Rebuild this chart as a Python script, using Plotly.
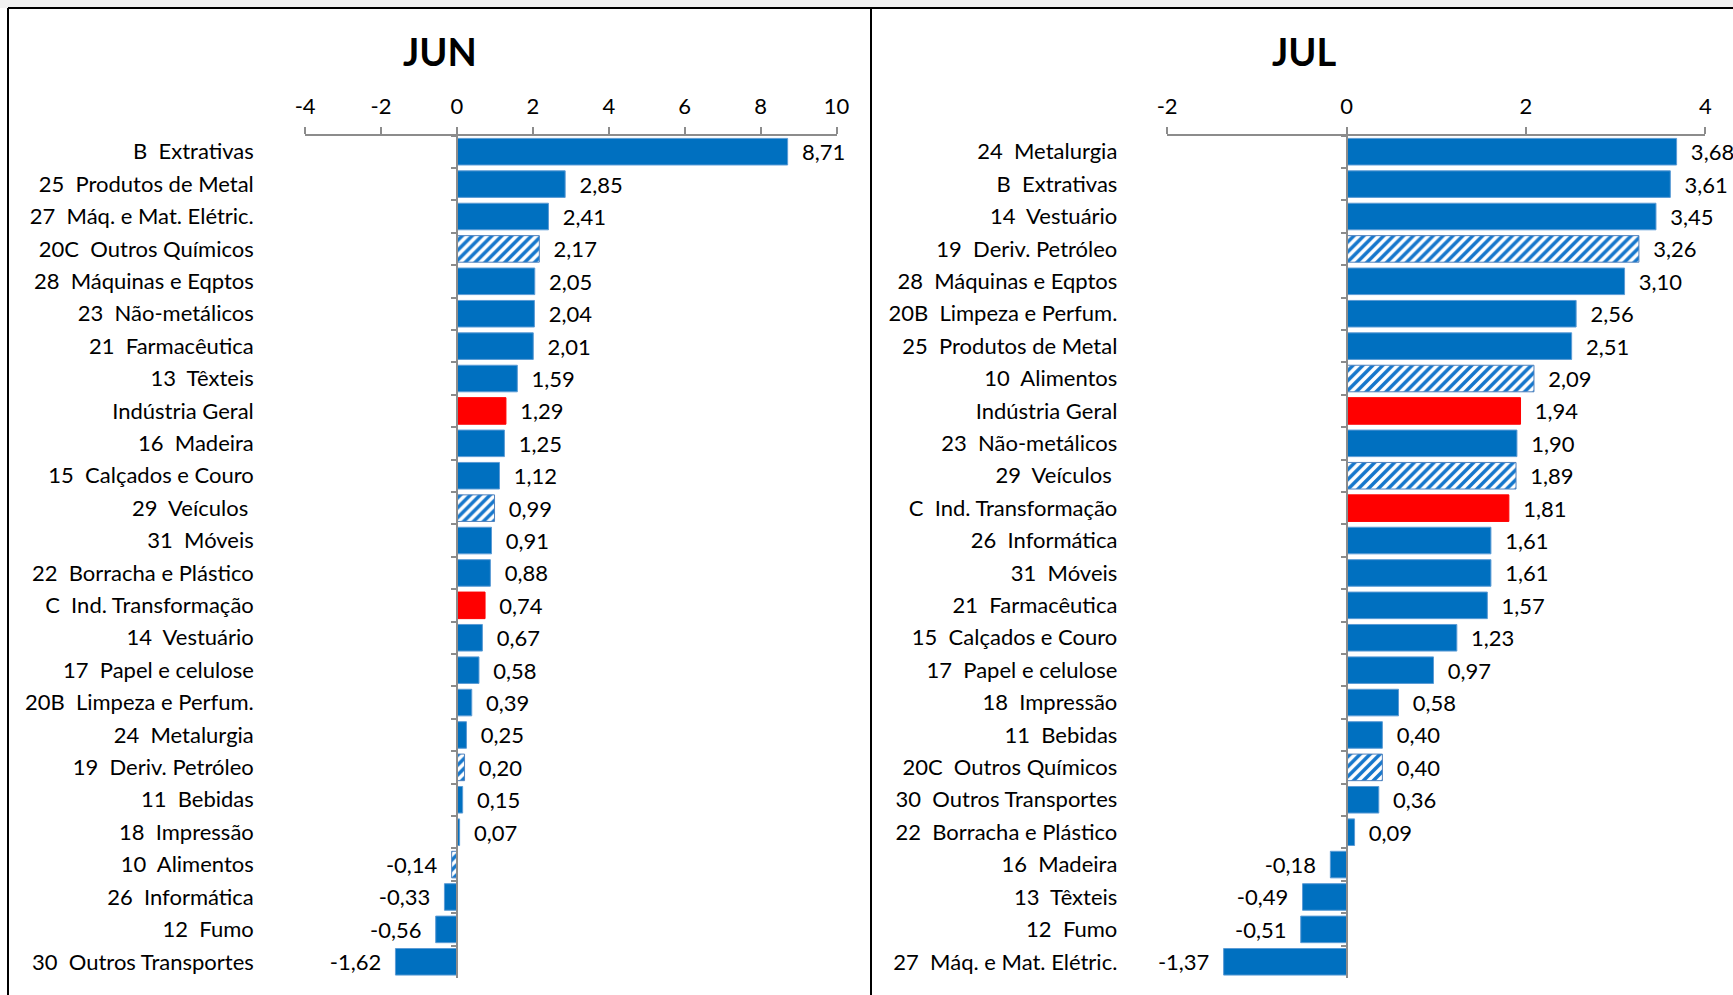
import plotly.graph_objects as go

W, H = 1733, 995
NB = "\u00a0"

jun_cats = ["B  Extrativas", "25  Produtos de Metal", "27  Máq. e Mat. Elétric.", "20C  Outros Químicos",
            "28  Máquinas e Eqptos", "23  Não-metálicos", "21  Farmacêutica", "13  Têxteis",
            "Indústria Geral", "16  Madeira", "15  Calçados e Couro", "29  Veículos ",
            "31  Móveis", "22  Borracha e Plástico", "C  Ind. Transformação", "14  Vestuário",
            "17  Papel e celulose", "20B  Limpeza e Perfum.", "24  Metalurgia", "19  Deriv. Petróleo",
            "11  Bebidas", "18  Impressão", "10  Alimentos", "26  Informática", "12  Fumo",
            "30  Outros Transportes"]
jun_vals = [8.71, 2.85, 2.41, 2.17, 2.05, 2.04, 2.01, 1.59, 1.29, 1.25, 1.12, 0.99, 0.91, 0.88,
            0.74, 0.67, 0.58, 0.39, 0.25, 0.20, 0.15, 0.07, -0.14, -0.33, -0.56, -1.62]

jul_cats = ["24  Metalurgia", "B  Extrativas", "14  Vestuário", "19  Deriv. Petróleo",
            "28  Máquinas e Eqptos", "20B  Limpeza e Perfum.", "25  Produtos de Metal", "10  Alimentos",
            "Indústria Geral", "23  Não-metálicos", "29  Veículos ", "C  Ind. Transformação",
            "26  Informática", "31  Móveis", "21  Farmacêutica", "15  Calçados e Couro",
            "17  Papel e celulose", "18  Impressão", "11  Bebidas", "20C  Outros Químicos",
            "30  Outros Transportes", "22  Borracha e Plástico", "16  Madeira", "13  Têxteis",
            "12  Fumo", "27  Máq. e Mat. Elétric."]
jul_vals = [3.68, 3.61, 3.45, 3.26, 3.10, 2.56, 2.51, 2.09, 1.94, 1.90, 1.89, 1.81, 1.61, 1.61,
            1.57, 1.23, 0.97, 0.58, 0.40, 0.40, 0.36, 0.09, -0.18, -0.49, -0.51, -1.37]

aggregates = ["Indústria Geral", "C  Ind. Transformação"]
hatched = ["20C  Outros Químicos", "29  Veículos ", "19  Deriv. Petróleo", "10  Alimentos"]

panel_titles = ["JUN", "JUL"]
jun_ticks = [-4, -2, 0, 2, 4, 6, 8, 10]
jun_ticktext = ["-4", "-2", "0", "2", "4", "6", "8", "10"]
jul_ticks = [-2, 0, 2, 4]
jul_ticktext = ["-2", "0", "2", "4"]

BLUE = "#0070C0"
HATCH = "#1577CC"
RED = "#FF0000"
EDGE = "#5B9BD5"
HEDGE = "#4F81BD"
AXC = "#8C8C8C"
FONT = "Lato"
FS = 22


def nb(s):
    return s.replace(" ", NB)


def fmt(v):
    s = f"{v:.2f}".replace(".", ",")
    return NB * 2 + s if v >= 0 else s + NB * 2


def group(cats, vals, kind):
    ys, xs = [], []
    for c, v in zip(cats, vals):
        k = "red" if c in aggregates else ("hatch" if c in hatched else "blue")
        if k == kind:
            ys.append(nb(c)); xs.append(v)
    return ys, xs


styles = {
    "blue": dict(color=BLUE, line=dict(color=EDGE, width=1)),
    "red": dict(color=RED, line=dict(color=RED, width=1)),
    "hatch": dict(color="white", line=dict(color=HEDGE, width=1),
                  pattern=dict(shape="/", fgcolor=HATCH, bgcolor="white", fgopacity=1,
                               fillmode="replace", size=7, solidity=0.5)),
}

fig = go.Figure()
for cats, vals, xa, ya in [(jun_cats, jun_vals, "x", "y"), (jul_cats, jul_vals, "x2", "y2")]:
    for kind in ["blue", "red", "hatch"]:
        ys, xs = group(cats, vals, kind)
        fig.add_trace(go.Bar(
            x=xs, y=ys, orientation="h", xaxis=xa, yaxis=ya, marker=styles[kind],
            text=[fmt(v) for v in xs], textposition="outside", cliponaxis=False,
            constraintext="none", textfont=dict(family=FONT, size=FS, color="black"),
            showlegend=False, hoverinfo="skip",
        ))

ydom = [1 - 978 / H, 1 - 135.5 / H]
xdom1 = [305.1 / W, 836.6 / W]
xdom2 = [1167.1 / W, 1705.3 / W]
zero1 = xdom1[0] + (xdom1[1] - xdom1[0]) * 4 / 14
zero2 = xdom2[0] + (xdom2[1] - xdom2[0]) * 2 / 6

xcommon = dict(side="top", showline=True, linecolor=AXC, linewidth=1.5, ticks="outside",
               ticklen=7, tickcolor=AXC, tickwidth=1.5, showgrid=False, zeroline=False,
               tickfont=dict(family=FONT, size=FS, color="black"), ticklabelstandoff=4,
               fixedrange=True)
ycommon = dict(type="category", range=[25.5, -0.5], anchor="free", showline=True,
               linecolor=AXC, linewidth=1.5, ticks="outside", tickson="boundaries", ticklen=5,
               tickcolor=AXC, tickwidth=1.5, showgrid=False, zeroline=False,
               tickfont=dict(family=FONT, size=FS, color="black"), domain=ydom, fixedrange=True)

fig.update_layout(
    autosize=True, margin=dict(l=0, r=0, t=0, b=0, autoexpand=False),
    paper_bgcolor="white", plot_bgcolor="rgba(0,0,0,0)",
    barmode="overlay", bargap=0.18, font=dict(family=FONT, color="black"),
    xaxis=dict(domain=xdom1, range=[-4, 10], tickvals=jun_ticks, ticktext=jun_ticktext,
               anchor="y", **xcommon),
    xaxis2=dict(domain=xdom2, range=[-2, 4], tickvals=jul_ticks, ticktext=jul_ticktext,
                anchor="y2", **xcommon),
    yaxis=dict(position=zero1, categoryarray=[nb(c) for c in jun_cats],
               ticklabelstandoff=198, **ycommon),
    yaxis2=dict(position=zero2, categoryarray=[nb(c) for c in jul_cats],
                ticklabelstandoff=224, **ycommon),
    annotations=[
        dict(text=f"<b>{panel_titles[0]}</b>", x=440 / W, y=1 - 51 / H, xref="paper", yref="paper",
             showarrow=False, font=dict(family=FONT, size=38, color="black"),
             xanchor="center", yanchor="middle"),
        dict(text=f"<b>{panel_titles[1]}</b>", x=1304 / W, y=1 - 51 / H, xref="paper", yref="paper",
             showarrow=False, font=dict(family=FONT, size=38, color="black"),
             xanchor="center", yanchor="middle"),
    ],
    shapes=[
        dict(type="rect", xref="paper", yref="paper", x0=0, x1=1, y0=1 - 8 / H, y1=1,
             fillcolor="#F2F2F2", line=dict(width=0), layer="below"),
        dict(type="line", xref="paper", yref="paper", x0=8 / W, x1=1, y0=1 - 8 / H, y1=1 - 8 / H,
             line=dict(color="black", width=2)),
        dict(type="line", xref="paper", yref="paper", x0=8 / W, x1=8 / W, y0=0, y1=1 - 8 / H,
             line=dict(color="black", width=2)),
        dict(type="line", xref="paper", yref="paper", x0=871 / W, x1=871 / W, y0=0, y1=1 - 8 / H,
             line=dict(color="black", width=2)),
    ],
)

fig.write_html(
    "out.html",
    default_width="100vw", default_height="100vh",
    config={"responsive": True, "displayModeBar": False},
    post_script=("document.documentElement.style.margin='0px';"
                 "document.body.style.margin='0px';document.body.style.overflow='hidden';"
                 "Plotly.Plots.resize(document.getElementById('{plot_id}'));"),
)
